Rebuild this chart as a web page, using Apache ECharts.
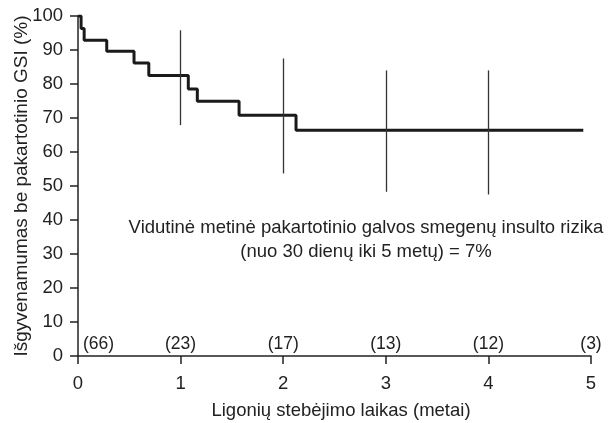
<!DOCTYPE html>
<html>
<head>
<meta charset="utf-8">
<script src="https://cdn.jsdelivr.net/npm/echarts@6/dist/echarts.min.js"></script>
<style>html,body{margin:0;padding:0;background:#fff;}#c{width:611px;height:423px;}</style>
</head>
<body>
<div id="c"></div>
<script>
// Kaplan–Meier step curve (years, % survival)
var stepYears = [0, 0.03, 0.06, 0.28, 0.546, 0.69, 1.075, 1.163, 1.57, 2.125, 4.925];
var stepValues = [100, 96.3, 92.9, 89.6, 86.2, 82.5, 78.5, 74.9, 70.8, 66.4, 66.4];
// Confidence interval bars
var ciYears = [1, 2, 3, 4];
var ciUpper = [95.8, 87.5, 84.0, 84.0];
var ciLower = [67.9, 53.7, 48.3, 47.5];
// Numbers at risk
var riskYears = [0, 1, 2, 3, 4, 5];
var riskCounts = [66, 23, 17, 13, 12, 3];
var riskLabelLevel = 3.5;
// Tick labels
var xTicks = ['0', '1', '2', '3', '4', '5'];
var yTicks = ['0', '10', '20', '30', '40', '50', '60', '70', '80', '90', '100'];
var noteLines = ['Vidutinė metinė pakartotinio galvos smegenų insulto rizika', '(nuo 30 dienų iki 5 metų) = 7%'];

var FONT = '"Liberation Sans", Arial, Helvetica, sans-serif';
var TXT = '#222';

var chart = echarts.init(document.getElementById('c'), null, {renderer: 'canvas'});

var kmData = stepYears.map(function (x, i) { return [x, stepValues[i]]; });
var ciLines = ciYears.map(function (x, i) {
  return [{coord: [x, ciUpper[i]]}, {coord: [x, ciLower[i]]}];
});
var riskData = riskYears.map(function (x, i) {
  var d = {value: [x, riskLabelLevel], name: '(' + riskCounts[i] + ')'};
  if (i === 0) d.label = {align: 'left', offset: [5, 0]};
  return d;
});

chart.setOption({
  animation: false,
  backgroundColor: '#fff',
  grid: {left: 78, right: 20, top: 16, bottom: 67, containLabel: false, outerBoundsMode: 'none'},
  xAxis: {
    type: 'value', min: 0, max: 5, interval: 1,
    name: 'Ligonių stebėjimo laikas (metai)',
    nameLocation: 'middle', nameGap: 45, nameMoveOverlap: false,
    nameTextStyle: {fontFamily: FONT, fontSize: 18.5, color: TXT, padding: [0, 0, 0, 13]},
    axisLine: {lineStyle: {color: '#222', width: 1.5}},
    axisTick: {show: true, inside: false, length: 8, lineStyle: {color: '#222', width: 1.5}},
    axisLabel: {fontFamily: FONT, fontSize: 18.5, color: TXT, margin: 18,
      formatter: function (v) { return xTicks[Math.round(v)]; }},
    splitLine: {show: false}
  },
  yAxis: {
    type: 'value', min: 0, max: 100, interval: 10,
    name: 'Išgyvenamumas be pakartotinio GSI (%)',
    nameLocation: 'middle', nameGap: 47, nameRotate: 90, nameMoveOverlap: false,
    nameTextStyle: {fontFamily: FONT, fontSize: 19, color: TXT},
    axisLine: {show: true, lineStyle: {color: '#222', width: 1.5}},
    axisTick: {show: true, inside: false, length: 8, lineStyle: {color: '#222', width: 1.5}},
    axisLabel: {fontFamily: FONT, fontSize: 18.5, color: TXT, margin: 15,
      formatter: function (v) { return yTicks[Math.round(v / 10)]; }},
    splitLine: {show: false}
  },
  graphic: [{
    type: 'text', x: 366, y: 216,
    style: {
      text: noteLines.join('\n'), x: 0, y: 0,
      fontFamily: FONT, fontSize: 18.5, lineHeight: 24,
      fill: TXT, textAlign: 'center', textVerticalAlign: 'top'
    }
  }],
  series: [
    {
      type: 'line', data: kmData, step: 'end', symbol: 'none',
      lineStyle: {color: '#1a1a1a', width: 3},
      z: 3,
      markLine: {
        silent: true, symbol: ['none', 'none'],
        label: {show: false},
        lineStyle: {color: '#333', width: 1.3, type: 'solid'},
        data: ciLines
      }
    },
    {
      type: 'scatter', data: riskData, symbolSize: 0,
      itemStyle: {opacity: 1, color: TXT},
      label: {
        show: true, position: 'inside', formatter: '{b}',
        fontFamily: FONT, fontSize: 17.5, color: TXT,
        textBorderWidth: 0, opacity: 1
      },
      z: 4
    }
  ]
});
</script>
</body>
</html>
